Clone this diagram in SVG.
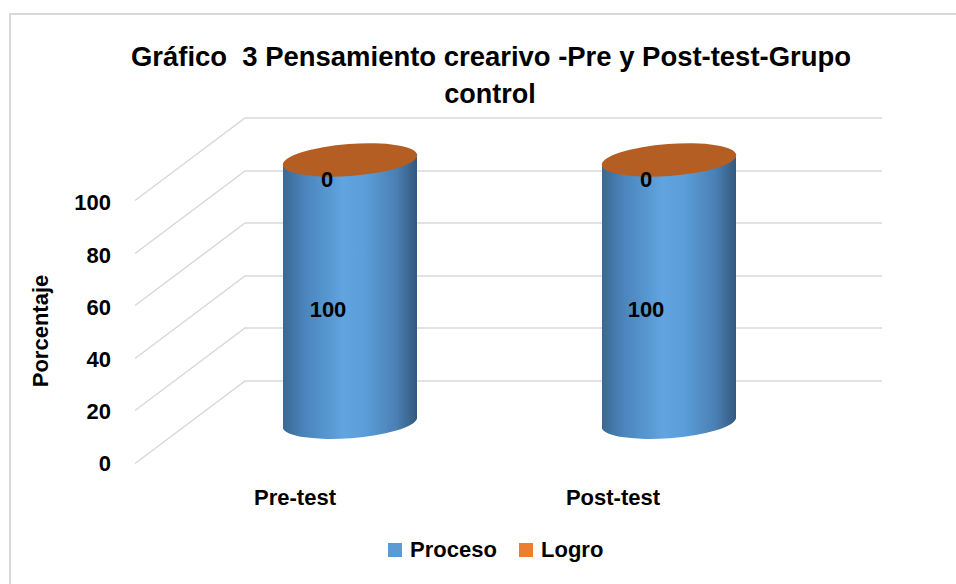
<svg xmlns="http://www.w3.org/2000/svg" width="956" height="584" viewBox="0 0 956 584">
<style>
.t{font-family:"Liberation Sans",Arial,sans-serif;font-weight:bold;fill:#000}
.grid{stroke:#D9D9D9;stroke-width:1.5;fill:none}
.ax{font-size:22px;text-anchor:end}
.cat{font-size:22px;text-anchor:middle}
.lbl{font-size:22px;text-anchor:middle}
</style>
<defs>
<linearGradient id="body" x1="0" y1="0" x2="1" y2="0">
<stop offset="0" stop-color="#3A6892"/>
<stop offset="0.15" stop-color="#4A83BA"/>
<stop offset="0.45" stop-color="#60A4E0"/>
<stop offset="0.62" stop-color="#5B9DD8"/>
<stop offset="0.85" stop-color="#4A7FB3"/>
<stop offset="1" stop-color="#33587D"/>
</linearGradient>
</defs>
<rect x="0" y="0" width="956" height="584" fill="#fff"/>
<path d="M10,584 L10,14 L956,14" fill="none" stroke="#D9D9D9" stroke-width="2"/>
<g id="title">
<text class="t" x="491" y="66" font-size="27" text-anchor="middle" textLength="720" lengthAdjust="spacingAndGlyphs" style="white-space:pre">Gráfico  3 Pensamiento crearivo -Pre y Post-test-Grupo</text>
<text class="t" x="490" y="103" font-size="27" text-anchor="middle">control</text>
</g>
<g id="gridlines">
<path class="grid" d="M882,118 H245 L135,200.5 M882,171 H245 L135,253.5 M882,223 H245 L135,305.5 M882,276 H245 L135,358.5 M882,328 H245 L135,410.5 M882,381 H245 L135,463.5"/>
</g>
<g id="y-axis">
<text class="t ax" x="111" y="210">100</text>
<text class="t ax" x="111" y="263">80</text>
<text class="t ax" x="111" y="315">60</text>
<text class="t ax" x="111" y="367">40</text>
<text class="t ax" x="111" y="419">20</text>
<text class="t ax" x="111" y="471">0</text>
<text class="t" x="0" y="0" font-size="22" text-anchor="middle" transform="translate(48,331) rotate(-90)">Porcentaje</text>
</g>
<g id="bar-pre">
<path d="M283,165 L283,428.5 A67.4,16 -4.3 0 0 417,418.5 L417,155 A67.4,16 -4.3 0 1 283,165 Z" fill="url(#body)"/>
<ellipse cx="350" cy="160" rx="67.4" ry="16" transform="rotate(-4.3 350 160)" fill="#B45E23"/>
<text class="t lbl" x="327" y="187">0</text>
<text class="t lbl" x="328" y="317">100</text>
</g>
<g id="bar-post">
<path d="M602,165 L602,428.5 A67.4,16 -4.3 0 0 736,418.5 L736,155 A67.4,16 -4.3 0 1 602,165 Z" fill="url(#body)"/>
<ellipse cx="669" cy="160" rx="67.4" ry="16" transform="rotate(-4.3 669 160)" fill="#B45E23"/>
<text class="t lbl" x="646" y="187">0</text>
<text class="t lbl" x="646" y="317">100</text>
</g>
<g id="categories">
<text class="t cat" x="295" y="505">Pre-test</text>
<text class="t cat" x="613" y="505">Post-test</text>
</g>
<g id="legend">
<rect x="388" y="543" width="14" height="14" fill="#5B9BD5"/>
<text class="t" x="410" y="557" font-size="22">Proceso</text>
<rect x="519" y="543" width="14" height="14" fill="#ED7D31"/>
<text class="t" x="541" y="557" font-size="22">Logro</text>
</g>
</svg>
